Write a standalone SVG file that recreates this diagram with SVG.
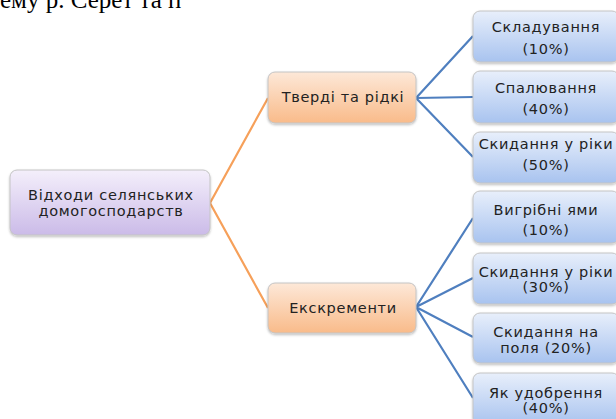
<svg xmlns="http://www.w3.org/2000/svg" width="616" height="419" viewBox="0 0 616 419">
<style>
.t{font-family:"DejaVu Sans","Open Sans",sans-serif;font-size:14.5px;letter-spacing:0.7px;fill:#222;text-anchor:middle;dominant-baseline:central}
.box{stroke:#c4c4c4;stroke-width:1}
.orange{stroke:#f6a05a;stroke-width:2.2;fill:none}
.blue{stroke:#4f7fbf;stroke-width:2.2;fill:none}
</style>
<defs>
<linearGradient id="gP" x1="0" y1="0" x2="0" y2="1"><stop offset="0" stop-color="#f4effb"/><stop offset="1" stop-color="#cbbbe8"/></linearGradient>
<linearGradient id="gO" x1="0" y1="0" x2="0" y2="1"><stop offset="0" stop-color="#fde8d8"/><stop offset="1" stop-color="#f9bb8a"/></linearGradient>
<linearGradient id="gB" x1="0" y1="0" x2="0" y2="1"><stop offset="0" stop-color="#e8effb"/><stop offset="1" stop-color="#a8c3ef"/></linearGradient>
<filter id="sh" x="-10%" y="-10%" width="120%" height="130%"><feDropShadow dx="0" dy="1.5" stdDeviation="1.2" flood-color="#000" flood-opacity="0.25"/></filter>
</defs>
<rect width="616" height="419" fill="#fff"/>
<text x="0" y="8" font-family="Liberation Serif, serif" font-size="25" fill="#000">ему р. Серет та п</text>
<g id="connectors">
<path class="orange" d="M210 203 L268 98 M210 203 L268 308"/>
<path class="blue" d="M416 98 L473 36 M416 98 L473 97 M416 98 L473 157"/>
<path class="blue" d="M416 307 L473 218 M416 307 L473 278 M416 307 L473 337 M416 307 L473 398"/>
</g>
<g id="root"><rect class="box" x="10" y="170" width="200" height="65" rx="7" fill="url(#gP)" filter="url(#sh)"/>
<text class="t" x="111" y="195">Відходи селянських</text><text class="t" x="111" y="211">домогосподарств</text></g>
<g id="tverdi"><rect class="box" x="268" y="72" width="148" height="51" rx="7" fill="url(#gO)" filter="url(#sh)"/>
<text class="t" x="343" y="97">Тверді та рідкі</text></g>
<g id="ekskrementy"><rect class="box" x="268" y="283" width="148" height="50" rx="7" fill="url(#gO)" filter="url(#sh)"/>
<text class="t" x="343" y="308">Екскременти</text></g>
<g id="skladuvannia"><rect class="box" x="473" y="11" width="146" height="51" rx="7" fill="url(#gB)" filter="url(#sh)"/>
<text class="t" x="546" y="27">Складування</text><text class="t" x="546" y="49">(10%)</text></g>
<g id="spaliuvannia"><rect class="box" x="473" y="71" width="146" height="52" rx="7" fill="url(#gB)" filter="url(#sh)"/>
<text class="t" x="546" y="88">Спалювання</text><text class="t" x="546" y="109">(40%)</text></g>
<g id="skydannia1"><rect class="box" x="473" y="132" width="146" height="51" rx="7" fill="url(#gB)" filter="url(#sh)"/>
<text class="t" x="546" y="144">Скидання у ріки</text><text class="t" x="546" y="165">(50%)</text></g>
<g id="vyhribni"><rect class="box" x="473" y="191" width="146" height="52" rx="7" fill="url(#gB)" filter="url(#sh)"/>
<text class="t" x="546" y="210">Вигрібні ями</text><text class="t" x="546" y="230">(10%)</text></g>
<g id="skydannia2"><rect class="box" x="473" y="253" width="146" height="51" rx="7" fill="url(#gB)" filter="url(#sh)"/>
<text class="t" x="546" y="272">Скидання у ріки</text><text class="t" x="546" y="287">(30%)</text></g>
<g id="skydannia3"><rect class="box" x="473" y="313" width="146" height="50" rx="7" fill="url(#gB)" filter="url(#sh)"/>
<text class="t" x="546" y="332">Скидання на</text><text class="t" x="546" y="348">поля (20%)</text></g>
<g id="dobrennia"><rect class="box" x="473" y="373" width="146" height="52" rx="7" fill="url(#gB)" filter="url(#sh)"/>
<text class="t" x="546" y="393">Як удобрення</text><text class="t" x="546" y="408">(40%)</text></g>
</svg>
